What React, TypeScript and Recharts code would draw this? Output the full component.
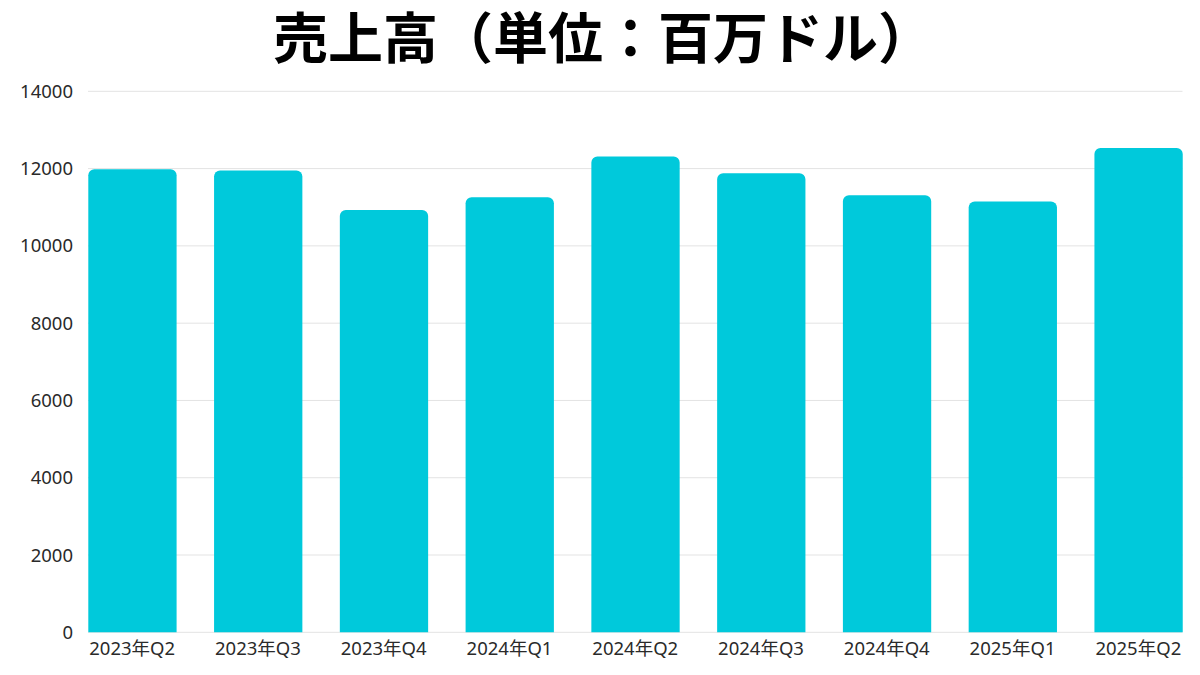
import React from "react";
import { BarChart, Bar, XAxis, YAxis, CartesianGrid } from "recharts";

const categories = [
  "2023年Q2",
  "2023年Q3",
  "2023年Q4",
  "2024年Q1",
  "2024年Q2",
  "2024年Q3",
  "2024年Q4",
  "2025年Q1",
  "2025年Q2",
];
const revenue = [11980, 11950, 10930, 11260, 12310, 11880, 11310, 11150, 12530];
const yTicks = [0, 2000, 4000, 6000, 8000, 10000, 12000, 14000];
const title = "売上高（単位：百万ドル）";

const data = categories.map((c, i) => ({ name: c, value: revenue[i] }));

const FONT = "'Noto Sans', 'Noto Sans CJK JP', sans-serif";

export default function App() {
  return (
    <div
      style={{
        position: "absolute",
        left: 0,
        top: 0,
        width: 1200,
        height: 675,
        background: "#ffffff",
        fontFamily: FONT,
      }}
    >
      <div
        style={{
          position: "absolute",
          left: 0,
          top: 6,
          width: 1200,
          height: 56,
          lineHeight: "56px",
          textAlign: "center",
          fontFamily: "'Noto Sans CJK JP', sans-serif",
          fontWeight: 700,
          fontSize: 55,
          color: "#000000",
          paddingLeft: 6,
          boxSizing: "border-box",
          whiteSpace: "nowrap",
        }}
      >
        {title}
      </div>
      <BarChart
        width={1200}
        height={675}
        data={data}
        margin={{ top: 91.3, right: 17.5, bottom: 12.7, left: 8 }}
      >
        <CartesianGrid vertical={false} stroke="#e3e3e3" strokeWidth={1} />
        <XAxis
          dataKey="name"
          axisLine={false}
          tickLine={false}
          tickSize={0}
          tickMargin={10}
          height={30}
          interval={0}
          padding={{ left: -18.7, right: -18.7 }}
          tick={{ fill: "#2a2a2a", fontSize: 18.5, fontFamily: FONT }}
        />
        <YAxis
          width={80}
          domain={[0, 14000]}
          ticks={yTicks}
          axisLine={false}
          tickLine={false}
          tickSize={0}
          tickMargin={15}
          interval={0}
          tick={{ fill: "#2a2a2a", fontSize: 18.5, fontFamily: FONT }}
        />
        <Bar
          dataKey="value"
          fill="#00C9DB"
          barSize={88.3}
          radius={[6, 6, 0, 0]}
          isAnimationActive={false}
        />
      </BarChart>
    </div>
  );
}
